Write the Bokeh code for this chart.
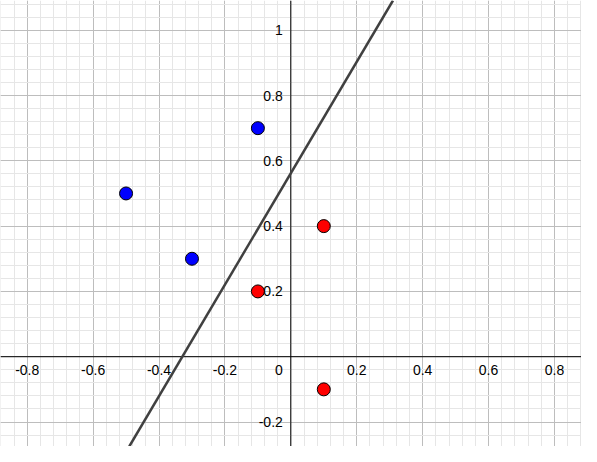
from bokeh.plotting import figure
from bokeh.models import Span, Slope, SingleIntervalTicker, ColumnDataSource
from bokeh.core.properties import value
from bokeh.embed import file_html
from bokeh.resources import INLINE

# data
blue_x = [-0.5, -0.3, -0.1]
blue_y = [0.5, 0.3, 0.7]
red_x = [0.1, -0.1, 0.1]
red_y = [0.4, 0.2, -0.1]
line_slope = 1.707
line_intercept = 0.562
x_ticks = [-0.8, -0.6, -0.4, -0.2, 0.2, 0.4, 0.6, 0.8]
x_tick_labels = ["-0.8", "-0.6", "-0.4", "-0.2", "0.2", "0.4", "0.6", "0.8"]
y_ticks = [-0.2, 0.2, 0.4, 0.6, 0.8, 1.0]
y_tick_labels = ["-0.2", "0.2", "0.4", "0.6", "0.8", "1"]

p = figure(width=581, height=446, x_range=(-0.881, 0.882), y_range=(-0.275, 1.091),
           output_backend="svg", toolbar_location=None, min_border=0,
           background_fill_color="white", border_fill_color="white")
p.outline_line_color = None
p.xaxis.visible = False
p.yaxis.visible = False

for g in (p.xgrid, p.ygrid):
    g.ticker = SingleIntervalTicker(interval=0.2, num_minor_ticks=5)
    g.grid_line_color = "#bdbdbd"
    g.grid_line_width = 1
    g.minor_grid_line_color = "#e6e6e6"
    g.minor_grid_line_width = 1

p.add_layout(Span(location=0, dimension="width", line_color="black", line_width=1))
p.add_layout(Span(location=0, dimension="height", line_color="black", line_width=1))

font = value("Liberation Sans")
xs = ColumnDataSource(dict(x=x_ticks, y=[0] * len(x_ticks), t=x_tick_labels))
p.text(x="x", y="y", text="t", source=xs, text_align="center", text_baseline="top",
       y_offset=8, text_font=font, text_font_size="14px", text_color="black")
ys = ColumnDataSource(dict(x=[0] * len(y_ticks), y=y_ticks, t=y_tick_labels))
p.text(x="x", y="y", text="t", source=ys, text_align="right", text_baseline="middle",
       x_offset=-8, text_font=font, text_font_size="14px", text_color="black")
p.text(x=[0], y=[0], text=["0"], text_align="right", text_baseline="top",
       x_offset=-8, y_offset=8, text_font=font, text_font_size="14px", text_color="black")

p.add_layout(Slope(gradient=line_slope, y_intercept=line_intercept,
                   line_color="#404040", line_width=2.5))

p.scatter(blue_x, blue_y, size=13, fill_color="#0000ff", line_color="black", line_width=1)
p.scatter(red_x, red_y, size=13, fill_color="#ff0000", line_color="black", line_width=1)

open("out.html", "w").write(file_html(p, INLINE))
